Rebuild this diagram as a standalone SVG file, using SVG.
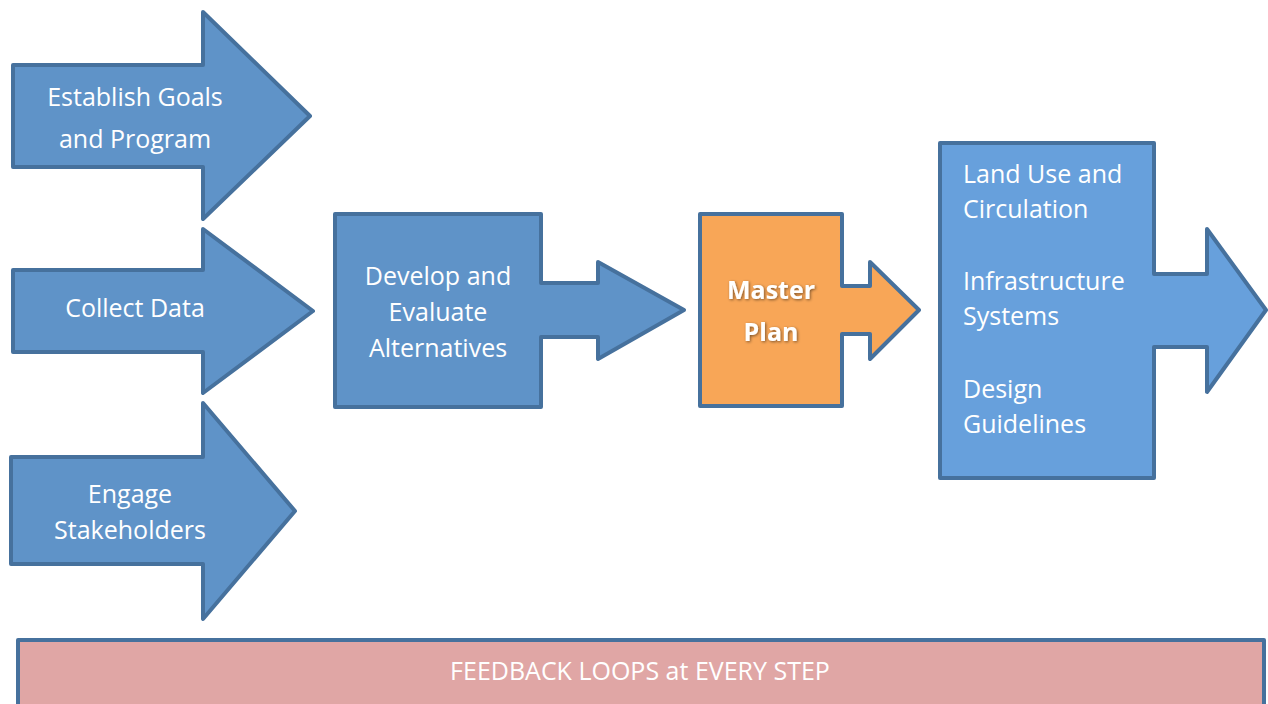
<svg xmlns="http://www.w3.org/2000/svg" width="1268" height="704" viewBox="0 0 1268 704">
  <style>
    .shape { stroke: #46719d; stroke-width: 4; stroke-linejoin: round; }
    .blue { fill: #5f93c8; }
    .lightblue { fill: #67a0dc; }
    .orange { fill: #f8a657; }
    .pink { fill: #e0a6a5; }
    .label { font-family: "Open Sans", "Liberation Sans", sans-serif; font-size: 25px; fill: #ffffff; }
    .mid { text-anchor: middle; }
    .bold { font-weight: bold; }
  </style>
  <defs>
    <filter id="glow" x="-20%" y="-20%" width="140%" height="140%">
      <feGaussianBlur in="SourceAlpha" stdDeviation="1.5" result="b"/>
      <feOffset in="b" dx="1" dy="1" result="o"/>
      <feComponentTransfer in="o" result="s"><feFuncA type="linear" slope="0.5"/></feComponentTransfer>
      <feMerge><feMergeNode in="s"/><feMergeNode in="SourceGraphic"/></feMerge>
    </filter>
  </defs>

  <g id="connectors"></g>

  <g id="establish-goals">
    <polygon class="shape blue" points="13,65 203,65 203,12 310,116 203,219 203,167 13,167"/>
    <text class="label mid" x="135" y="106">Establish Goals</text>
    <text class="label mid" x="135" y="148">and Program</text>
  </g>

  <g id="collect-data">
    <polygon class="shape blue" points="13,270 203,270 203,229 313,311 203,393 203,352 13,352"/>
    <text class="label mid" x="135" y="317">Collect Data</text>
  </g>

  <g id="engage-stakeholders">
    <polygon class="shape blue" points="11,457 203,457 203,403 295,511 203,619 203,564 11,564"/>
    <text class="label mid" x="130" y="503">Engage</text>
    <text class="label mid" x="130" y="539">Stakeholders</text>
  </g>

  <g id="develop-alternatives">
    <polygon class="shape blue" points="335,214 541,214 541,283 598,283 598,262 684,310 598,359 598,337 541,337 541,407 335,407"/>
    <text class="label mid" x="438" y="285">Develop and</text>
    <text class="label mid" x="438" y="321">Evaluate</text>
    <text class="label mid" x="438" y="357">Alternatives</text>
  </g>

  <g id="master-plan">
    <polygon class="shape orange" points="700,214 842,214 842,286 870,286 870,262 919,310 870,359 870,334 842,334 842,406 700,406"/>
    <g filter="url(#glow)">
      <text class="label mid bold" x="771" y="299">Master</text>
      <text class="label mid bold" x="771" y="341">Plan</text>
    </g>
  </g>

  <g id="plan-elements">
    <polygon class="shape lightblue" points="940,143 1154,143 1154,274 1207,274 1207,229 1266,310 1207,392 1207,347 1154,347 1154,478 940,478"/>
    <text class="label" x="963" y="183">Land Use and</text>
    <text class="label" x="963" y="218">Circulation</text>
    <text class="label" x="963" y="290">Infrastructure</text>
    <text class="label" x="963" y="325">Systems</text>
    <text class="label" x="963" y="398">Design</text>
    <text class="label" x="963" y="433">Guidelines</text>
  </g>

  <g id="feedback-loops">
    <rect class="shape pink" x="18" y="640" width="1246" height="70"/>
    <text class="label mid" x="640" y="680">FEEDBACK LOOPS at EVERY STEP</text>
  </g>
</svg>
